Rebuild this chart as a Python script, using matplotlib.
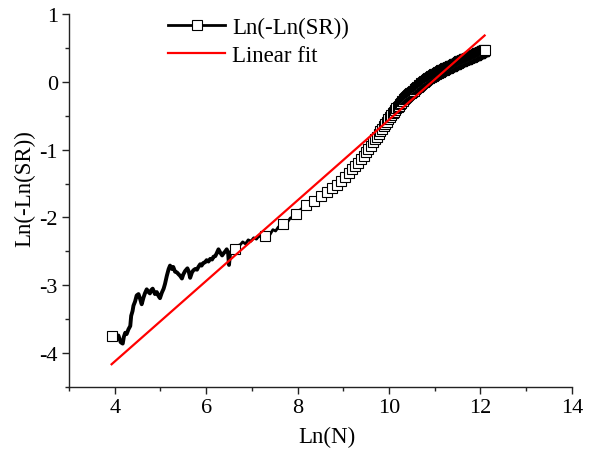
import numpy as np
import matplotlib
matplotlib.use("Agg")
import matplotlib.pyplot as plt
from matplotlib.lines import Line2D
from matplotlib.ticker import MultipleLocator

plt.rcParams["font.family"] = ["Liberation Serif", "DejaVu Serif"]
plt.rcParams["axes.unicode_minus"] = False

# Jagged early part of Ln(-Ln(SR)) versus Ln(N)
NOISY_LN_N = [
    3.93, 4.00, 4.08, 4.13, 4.175, 4.20, 4.23, 4.26, 4.30, 4.34, 4.36, 4.39,
    4.41, 4.445, 4.48, 4.52, 4.555, 4.59, 4.63, 4.66, 4.70, 4.74, 4.77, 4.80,
    4.83, 4.88, 4.92, 4.96, 4.99, 5.03, 5.07, 5.10, 5.14, 5.18, 5.21, 5.25,
    5.28, 5.32, 5.36, 5.40, 5.43, 5.47, 5.50, 5.54, 5.59, 5.62, 5.65, 5.69,
    5.72, 5.76, 5.80, 5.83, 5.87, 5.90, 5.94, 5.98, 6.01, 6.05, 6.09, 6.13,
    6.16, 6.20, 6.23, 6.27, 6.31, 6.35, 6.38, 6.42, 6.45, 6.48, 6.50, 6.52,
    6.56, 6.62, 6.68, 6.75, 6.80, 6.86, 6.92, 6.98, 7.04, 7.10, 7.16, 7.22,
    7.28, 7.35, 7.40, 7.46, 7.52, 7.58, 7.64, 7.67, 7.72, 7.78, 7.84, 7.90,
    7.955, 8.02, 8.08, 8.12, 8.175, 8.26, 8.30, 8.355, 8.43, 8.507, 8.58,
    8.64, 8.70, 8.756, 8.82, 8.861,
]
NOISY_Y = [
    -3.75, -3.78, -3.74, -3.84, -3.86, -3.76, -3.70, -3.72, -3.65, -3.60, -3.45, -3.38,
    -3.30, -3.24, -3.15, -3.13, -3.20, -3.28, -3.18, -3.12, -3.06, -3.10, -3.12, -3.07,
    -3.05, -3.13, -3.10, -3.16, -3.19, -3.11, -3.05, -2.98, -2.86, -2.76, -2.71, -2.76,
    -2.73, -2.80, -2.81, -2.84, -2.86, -2.90, -2.84, -2.79, -2.75, -2.80, -2.89, -2.81,
    -2.78, -2.76, -2.77, -2.73, -2.69, -2.71, -2.67, -2.66, -2.63, -2.65, -2.61, -2.62,
    -2.58, -2.57, -2.53, -2.47, -2.52, -2.56, -2.53, -2.50, -2.47, -2.52, -2.70, -2.55,
    -2.49, -2.47, -2.42, -2.40, -2.36, -2.39, -2.33, -2.35, -2.30, -2.32, -2.27, -2.30,
    -2.27, -2.22, -2.25, -2.18, -2.20, -2.14, -2.12, -2.10, -2.06, -2.07, -2.01, -1.99,
    -1.95, -1.90, -1.88, -1.84, -1.82, -1.80, -1.77, -1.76, -1.72, -1.68, -1.66,
    -1.62, -1.60, -1.57, -1.54, -1.52,
]

# Series values at the sampled sizes N = 51, 751, 1451, ... (one symbol each)
SAMPLE_FIRST_N = 51
SAMPLE_STEP_N = 700
SERIES_Y = [
    -3.75, -2.47, -2.27, -2.10, -1.95, -1.82, -1.76, -1.68, -1.62, -1.57,
    -1.52, -1.46, -1.40, -1.35, -1.29, -1.24, -1.19, -1.14, -1.09, -1.04,
    -0.99, -0.94, -0.89, -0.85, -0.81, -0.77, -0.73, -0.69, -0.65, -0.62,
    -0.59, -0.55, -0.52, -0.49, -0.46, -0.44, -0.42, -0.39, -0.37, -0.35,
    -0.33, -0.31, -0.29, -0.28, -0.26, -0.24, -0.23, -0.21, -0.20, -0.18,
    -0.17, -0.16, -0.15, -0.14, -0.13, -0.11, -0.10, -0.09, -0.08, -0.07,
    -0.06, -0.05, -0.04, -0.03, -0.02, -0.01, 0.00, 0.00, 0.01, 0.01,
    0.02, 0.03, 0.04, 0.04, 0.05, 0.05, 0.06, 0.07, 0.07, 0.08,
    0.08, 0.09, 0.09, 0.10, 0.10, 0.11, 0.11, 0.12, 0.12, 0.13,
    0.13, 0.13, 0.14, 0.14, 0.15, 0.15, 0.15, 0.16, 0.16, 0.17,
    0.17, 0.17, 0.18, 0.18, 0.18, 0.19, 0.19, 0.19, 0.20, 0.20,
    0.20, 0.21, 0.21, 0.21, 0.21, 0.22, 0.22, 0.22, 0.22, 0.23,
    0.23, 0.23, 0.23, 0.24, 0.24, 0.24, 0.24, 0.25, 0.25, 0.25,
    0.26, 0.26, 0.26, 0.26, 0.27, 0.27, 0.27, 0.27, 0.28, 0.28,
    0.28, 0.28, 0.29, 0.29, 0.29, 0.29, 0.29, 0.30, 0.30, 0.30,
    0.30, 0.30, 0.31, 0.31, 0.31, 0.31, 0.31, 0.32, 0.32, 0.32,
    0.32, 0.32, 0.33, 0.33, 0.33, 0.33, 0.33, 0.33, 0.34, 0.34,
    0.34, 0.34, 0.34, 0.34, 0.34, 0.35, 0.35, 0.35, 0.35, 0.35,
    0.35, 0.36, 0.36, 0.36, 0.36, 0.36, 0.36, 0.37, 0.37, 0.37,
    0.37, 0.37, 0.37, 0.38, 0.38, 0.38, 0.38, 0.38, 0.38, 0.39,
    0.39, 0.39, 0.39, 0.39, 0.39, 0.39, 0.40, 0.40, 0.40, 0.40,
    0.40, 0.40, 0.41, 0.41, 0.41, 0.41, 0.41, 0.41, 0.42, 0.42,
    0.42, 0.42, 0.42, 0.42, 0.42, 0.43, 0.43, 0.43, 0.43, 0.43,
    0.43, 0.43, 0.44, 0.44, 0.44, 0.44, 0.44, 0.44, 0.44, 0.45,
    0.45, 0.45, 0.45, 0.45, 0.45, 0.45, 0.46, 0.46, 0.46, 0.46,
    0.46, 0.46, 0.46, 0.47, 0.47, 0.47,
]

# Linear fit y = a + b * Ln(N)
FIT_INTERCEPT = -6.50
FIT_SLOPE = 0.594

SERIES_LABEL = "Ln(-Ln(SR))"
FIT_LABEL = "Linear fit"
X_LABEL = "Ln(N)"
Y_LABEL = "Ln(-Ln(SR))"

sample_n = SAMPLE_FIRST_N + SAMPLE_STEP_N * np.arange(len(SERIES_Y))
series_x = np.log(sample_n)
series_y = np.asarray(SERIES_Y)

noisy_x = np.asarray(NOISY_LN_N)
noisy_y = np.asarray(NOISY_Y)
early = noisy_x <= 6.56

# connecting line after the jagged start, then through the later samples
tail = series_x > noisy_x[-1] + 1e-9
line_x = np.concatenate([noisy_x[~early | (noisy_x == noisy_x[early][-1])], series_x[tail]])
line_y = np.concatenate([noisy_y[~early | (noisy_x == noisy_x[early][-1])], series_y[tail]])

fit_x = np.array([series_x.min(), series_x.max()])
fit_y = FIT_INTERCEPT + FIT_SLOPE * fit_x

fig = plt.figure(figsize=(5.95, 4.52), dpi=100)
ax = fig.add_axes([0.116, 0.1416, 0.845, 0.8252])

ax.plot(noisy_x[early], noisy_y[early], color="black", lw=2.8, zorder=2)
ax.plot(line_x, line_y, color="black", lw=2.0, zorder=2)
ax.plot(series_x, series_y, ls="none", marker="s", ms=7.2,
        mfc="white", mec="black", mew=0.8, zorder=3)
ax.plot(fit_x, fit_y, color="#ff0000", lw=1.6, zorder=4)

ax.set_xlim(3, 14)
ax.set_ylim(-4.5, 1)
ax.xaxis.set_major_locator(MultipleLocator(2))
ax.xaxis.set_minor_locator(MultipleLocator(1))
ax.yaxis.set_major_locator(MultipleLocator(1))
ax.yaxis.set_minor_locator(MultipleLocator(0.5))

for side in ("top", "right"):
    ax.spines[side].set_visible(False)
for side in ("left", "bottom"):
    ax.spines[side].set_linewidth(1.0)
    ax.spines[side].set_color("#222222")

ax.tick_params(which="major", direction="out", length=5, width=1.0,
               color="#222222", labelsize=16, pad=3)
ax.tick_params(which="minor", direction="out", length=3, width=1.0,
               color="#222222")

ax.set_xlabel(X_LABEL, fontsize=16.5)
ax.set_ylabel(Y_LABEL, fontsize=16.5)
ax.xaxis.set_label_coords(0.512, -0.105)
ax.yaxis.set_label_coords(-0.068, 0.534)

handles = [
    Line2D([], [], color="black", lw=2.0, marker="s", ms=7.2,
           mfc="white", mec="black", mew=0.8),
    Line2D([], [], color="#ff0000", lw=1.6),
]
fig.legend(handles, [SERIES_LABEL, FIT_LABEL], loc="upper left",
           bbox_to_anchor=(168 / 595, 1 - 18 / 452),
           bbox_transform=fig.transFigure, frameon=False, fontsize=16.5,
           handlelength=2.5, handletextpad=0.3, labelspacing=0.3,
           borderpad=0, borderaxespad=0)

fig.savefig("out.png", dpi=100)
